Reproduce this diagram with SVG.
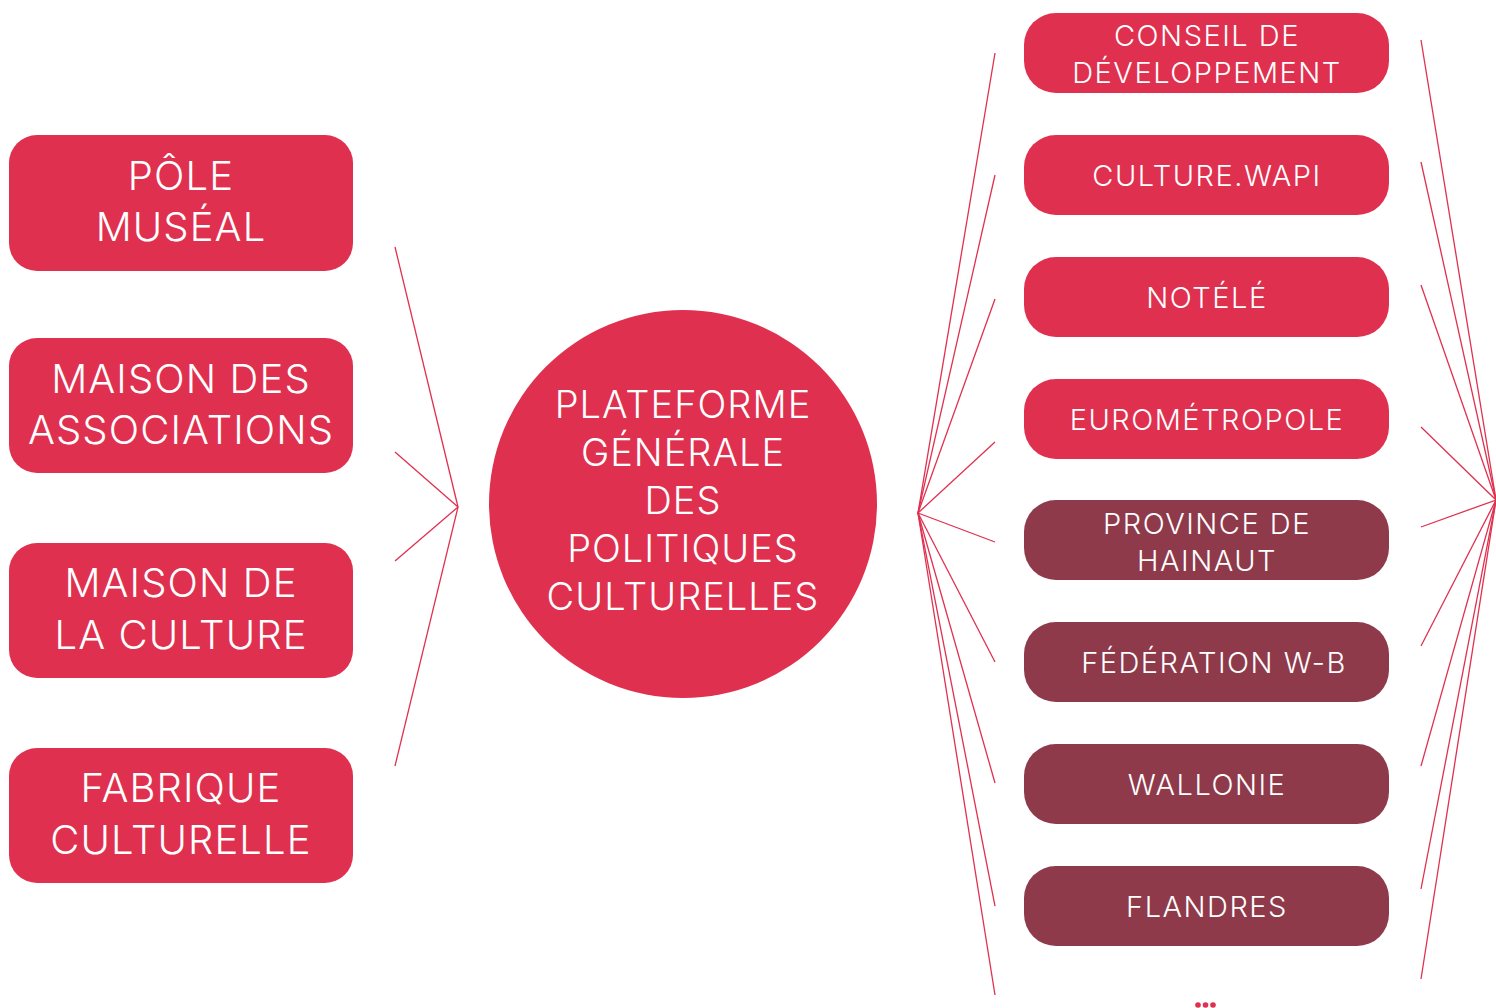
<svg xmlns="http://www.w3.org/2000/svg" width="1496" height="1008" viewBox="0 0 1496 1008">
  <style>
    .red { fill: #E0304F; }
    .dark { fill: #8E3A4B; }
    .link { stroke: #E0304F; stroke-width: 1.3; fill: none; }
    text { fill: #ffffff; font-family: Inter, "Liberation Sans", sans-serif; font-weight: 300; text-anchor: middle; }
    .big { font-size: 40px; letter-spacing: 1.1px; }
    .hub { font-size: 38px; letter-spacing: 1px; }
    .small { font-size: 29px; letter-spacing: 1.5px; }
  </style>
  <rect width="1496" height="1008" fill="#ffffff"/>

  <g id="connectors">
    <!-- left fan into the hub -->
    <line class="link" x1="458" y1="507" x2="395" y2="247"/>
    <line class="link" x1="458" y1="507" x2="395" y2="452"/>
    <line class="link" x1="458" y1="507" x2="395" y2="561"/>
    <line class="link" x1="458" y1="507" x2="395" y2="766"/>
    <!-- fan from the hub to the partners -->
    <line class="link" x1="918" y1="513" x2="995" y2="53"/>
    <line class="link" x1="918" y1="513" x2="995" y2="175"/>
    <line class="link" x1="918" y1="513" x2="995" y2="299"/>
    <line class="link" x1="918" y1="513" x2="995" y2="442"/>
    <line class="link" x1="918" y1="513" x2="995" y2="542"/>
    <line class="link" x1="918" y1="513" x2="995" y2="662"/>
    <line class="link" x1="918" y1="513" x2="995" y2="783"/>
    <line class="link" x1="918" y1="513" x2="995" y2="906"/>
    <line class="link" x1="918" y1="513" x2="995" y2="995"/>
    <!-- fan on the far right -->
    <line class="link" x1="1496" y1="500" x2="1421" y2="40"/>
    <line class="link" x1="1496" y1="500" x2="1421" y2="162"/>
    <line class="link" x1="1496" y1="500" x2="1421" y2="285"/>
    <line class="link" x1="1496" y1="500" x2="1421" y2="427"/>
    <line class="link" x1="1496" y1="500" x2="1421" y2="527"/>
    <line class="link" x1="1496" y1="500" x2="1421" y2="646"/>
    <line class="link" x1="1496" y1="500" x2="1421" y2="766"/>
    <line class="link" x1="1496" y1="500" x2="1421" y2="889"/>
    <line class="link" x1="1496" y1="500" x2="1421" y2="979"/>
  </g>

  <!-- left column -->
  <g id="pole-museal">
    <rect class="red" x="9" y="135" width="344" height="136" rx="28"/>
    <text class="big" x="181" y="190">PÔLE</text>
    <text class="big" x="181" y="241">MUSÉAL</text>
  </g>
  <g id="maison-des-associations">
    <rect class="red" x="9" y="338" width="344" height="135" rx="28"/>
    <text class="big" x="181" y="393">MAISON DES</text>
    <text class="big" x="181" y="444">ASSOCIATIONS</text>
  </g>
  <g id="maison-de-la-culture">
    <rect class="red" x="9" y="543" width="344" height="135" rx="28"/>
    <text class="big" x="181" y="597">MAISON DE</text>
    <text class="big" x="181" y="649">LA CULTURE</text>
  </g>
  <g id="fabrique-culturelle">
    <rect class="red" x="9" y="748" width="344" height="135" rx="28"/>
    <text class="big" x="181" y="802">FABRIQUE</text>
    <text class="big" x="181" y="854">CULTURELLE</text>
  </g>

  <!-- hub -->
  <g id="plateforme">
    <circle class="red" cx="683" cy="504" r="194"/>
    <text class="hub" x="683" y="418">PLATEFORME</text>
    <text class="hub" x="683" y="466">GÉNÉRALE</text>
    <text class="hub" x="683" y="514">DES</text>
    <text class="hub" x="683" y="562">POLITIQUES</text>
    <text class="hub" x="683" y="610">CULTURELLES</text>
  </g>

  <!-- right column -->
  <g id="conseil-de-developpement">
    <rect class="red" x="1024" y="13" width="365" height="80" rx="32"/>
    <text class="small" x="1207" y="46">CONSEIL DE</text>
    <text class="small" x="1207" y="83">DÉVELOPPEMENT</text>
  </g>
  <g id="culture-wapi">
    <rect class="red" x="1024" y="135" width="365" height="80" rx="32"/>
    <text class="small" x="1207" y="186">CULTURE.WAPI</text>
  </g>
  <g id="notele">
    <rect class="red" x="1024" y="257" width="365" height="80" rx="32"/>
    <text class="small" x="1207" y="308">NOTÉLÉ</text>
  </g>
  <g id="eurometropole">
    <rect class="red" x="1024" y="379" width="365" height="80" rx="32"/>
    <text class="small" x="1207" y="430">EUROMÉTROPOLE</text>
  </g>
  <g id="province-de-hainaut">
    <rect class="dark" x="1024" y="500" width="365" height="80" rx="32"/>
    <text class="small" x="1207" y="534">PROVINCE DE</text>
    <text class="small" x="1207" y="571">HAINAUT</text>
  </g>
  <g id="federation-wb">
    <rect class="dark" x="1024" y="622" width="365" height="80" rx="32"/>
    <text class="small" x="1214" y="673">FÉDÉRATION W-B</text>
  </g>
  <g id="wallonie">
    <rect class="dark" x="1024" y="744" width="365" height="80" rx="32"/>
    <text class="small" x="1207" y="795">WALLONIE</text>
  </g>
  <g id="flandres">
    <rect class="dark" x="1024" y="866" width="365" height="80" rx="32"/>
    <text class="small" x="1207" y="917">FLANDRES</text>
  </g>

  <!-- continuation dots -->
  <g id="more" class="red">
    <circle cx="1198" cy="1005" r="2.8"/>
    <circle cx="1205.5" cy="1005" r="2.8"/>
    <circle cx="1213" cy="1005" r="2.8"/>
  </g>
</svg>
